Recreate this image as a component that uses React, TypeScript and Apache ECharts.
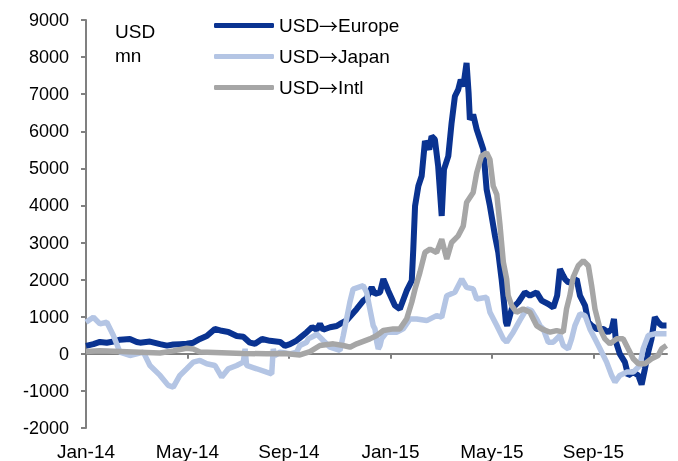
import React, { useEffect, useRef } from "react";
import * as echarts from "echarts";

// x positions are in months since Jan-2014 (0 = Jan-14, 4 = May-14, ...)
const tickMonths = [0, 4, 8, 12, 16, 20];
const tickLabels = ["Jan-14", "May-14", "Sep-14", "Jan-15", "May-15", "Sep-15"];
const seriesNames = ["USD→Europe", "USD→Japan", "USD→Intl"];

const europeX = [0, 0.29, 0.55, 0.82, 1.08, 1.34, 1.73, 2.0, 2.13, 2.52, 2.92, 3.19, 3.44, 3.7, 3.97, 4.23, 4.49, 4.76, 5.08, 5.35, 5.61, 5.94, 6.2, 6.46, 6.66, 6.94, 7.25, 7.65, 7.84, 8.04, 8.3, 8.43, 8.7, 8.91, 9.09, 9.22, 9.35, 9.62, 9.88, 10.01, 10.27, 10.67, 10.93, 11.06, 11.26, 11.39, 11.59, 11.72, 11.91, 12.18, 12.37, 12.64, 12.84, 12.9, 12.97, 13.1, 13.23, 13.36, 13.53, 13.62, 13.75, 13.88, 14.02, 14.11, 14.28, 14.41, 14.54, 14.67, 14.77, 14.87, 15.0, 15.08, 15.13, 15.26, 15.4, 15.53, 15.66, 15.79, 15.92, 16.12, 16.25, 16.38, 16.45, 16.55, 16.6, 16.78, 17.04, 17.3, 17.5, 17.76, 17.96, 18.22, 18.42, 18.57, 18.68, 18.81, 18.88, 19.01, 19.07, 19.34, 19.47, 19.67, 19.8, 19.93, 20.13, 20.39, 20.58, 20.72, 20.81, 20.89, 21.04, 21.24, 21.37, 21.57, 21.77, 21.9, 22.03, 22.16, 22.29, 22.42, 22.55, 22.69, 22.88];
const europeY = [215, 260, 320, 300, 330, 380, 400, 320, 300, 330, 260, 220, 250, 260, 270, 300, 400, 480, 670, 620, 590, 480, 460, 300, 270, 400, 350, 320, 215, 260, 358, 430, 583, 720, 650, 806, 650, 717, 750, 806, 900, 1210, 1434, 1500, 1792, 1613, 1658, 2016, 1702, 1299, 1210, 1702, 1971, 2822, 3987, 4524, 4793, 5734, 5510, 5868, 5779, 5062, 3718, 4973, 5331, 6228, 6943, 7123, 7392, 7212, 7841, 7034, 6317, 6451, 6048, 5779, 5510, 4435, 3987, 3180, 2734, 2016, 1567, 852, 761, 1210, 1390, 1658, 1567, 1658, 1434, 1344, 1250, 1567, 2285, 2105, 2016, 1927, 1927, 2016, 1567, 1299, 852, 761, 672, 672, 583, 672, 941, 314, 0, -224, -582, -493, -582, -830, -403, 45, 403, 986, 852, 761, 761];

const japanX = [0, 0.29, 0.55, 0.82, 1.08, 1.34, 1.73, 2.0, 2.26, 2.52, 2.92, 3.24, 3.44, 3.7, 3.97, 4.23, 4.49, 4.76, 5.08, 5.35, 5.61, 5.94, 6.2, 6.27, 6.33, 6.73, 7.12, 7.32, 7.38, 7.45, 7.65, 8.04, 8.3, 8.43, 8.7, 8.76, 9.02, 9.09, 9.35, 9.62, 10.01, 10.14, 10.27, 10.4, 10.53, 10.73, 10.93, 11.06, 11.19, 11.32, 11.39, 11.46, 11.52, 11.59, 11.65, 11.85, 12.24, 12.5, 12.77, 13.03, 13.43, 13.82, 14.02, 14.22, 14.54, 14.81, 15.0, 15.26, 15.4, 15.79, 15.92, 16.19, 16.45, 16.58, 16.84, 17.1, 17.37, 17.56, 17.76, 17.89, 18.02, 18.22, 18.42, 18.68, 18.81, 19.01, 19.14, 19.27, 19.47, 19.67, 19.86, 20.06, 20.26, 20.52, 20.72, 20.85, 21.04, 21.31, 21.57, 21.83, 21.96, 22.16, 22.42, 22.88];
const japanY = [852, 986, 806, 852, 493, 45, -45, 0, 45, -314, -582, -851, -896, -582, -403, -224, -179, -269, -314, -627, -403, -314, -224, 134, -314, -403, -493, -538, 134, -45, 45, 0, 45, 224, 314, 403, 493, 538, 358, 179, 90, 493, 941, 1390, 1747, 1792, 1837, 1658, 1210, 761, 672, 314, 134, 224, 403, 583, 583, 672, 941, 941, 896, 1030, 986, 1567, 1658, 2016, 1792, 1750, 1478, 1523, 1120, 761, 403, 314, 583, 900, 1210, 1165, 941, 761, 672, 314, 314, 493, 224, 134, 403, 761, 1075, 1030, 672, 403, 134, -224, -582, -761, -582, -493, -493, -314, 134, 493, 538, 538];

const intlX = [0, 0.55, 1.34, 2.13, 2.92, 3.44, 3.97, 4.23, 4.49, 5.35, 6.2, 7.12, 7.84, 8.43, 8.83, 9.22, 9.75, 10.14, 10.4, 10.67, 11.19, 11.46, 11.72, 12.11, 12.37, 12.64, 12.84, 12.97, 13.16, 13.36, 13.56, 13.82, 14.02, 14.22, 14.41, 14.67, 14.87, 15.0, 15.26, 15.4, 15.59, 15.79, 15.92, 16.05, 16.19, 16.32, 16.45, 16.58, 16.64, 16.78, 16.97, 17.23, 17.5, 17.63, 17.76, 17.96, 18.29, 18.55, 18.81, 18.94, 19.07, 19.2, 19.4, 19.6, 19.8, 19.93, 20.06, 20.26, 20.45, 20.65, 20.91, 21.17, 21.37, 21.57, 21.77, 22.03, 22.29, 22.55, 22.69, 22.88];
const intlY = [60, 80, 60, 40, 20, 80, 150, 130, 50, 30, 10, 0, 10, -30, 60, 224, 269, 224, 179, 269, 403, 493, 627, 672, 672, 941, 1390, 1747, 2196, 2734, 2822, 2734, 3091, 2554, 3002, 3180, 3449, 4078, 4347, 4884, 5331, 5421, 5242, 4524, 4300, 3449, 2465, 2016, 1567, 1299, 1120, 1210, 1120, 941, 761, 672, 583, 627, 583, 1210, 1567, 2061, 2374, 2509, 2374, 1837, 1210, 672, 403, 269, 403, 403, 134, -134, -269, -269, -134, -45, 134, 224];

const FONT = "'Liberation Sans', Arial, sans-serif";
const ARROW_FONT = "'Noto Sans CJK JP', 'Noto Sans CJK SC', 'DejaVu Sans', sans-serif";
const AXIS_GRAY = "#808080";

export default function App() {
  const ref = useRef<HTMLDivElement>(null);
  useEffect(() => {
    if (!ref.current) return;
    const chart = echarts.init(ref.current, undefined, { renderer: "svg" });
    const pair = (xs: number[], ys: number[]) => xs.map((x, i) => [x, ys[i]]);
    chart.setOption({
      animation: false,
      textStyle: { fontFamily: FONT },
      grid: { left: 86, right: 11, top: 20, bottom: 32, containLabel: false },
      legend: {
        orient: "vertical",
        left: 209,
        top: 11,
        itemWidth: 60,
        itemHeight: 5,
        itemGap: 12,
        icon: "roundRect",
        formatter: (name: string) => name.replace("→", "{a|→}"),
        textStyle: {
          fontFamily: FONT,
          fontSize: 19,
          color: "#000",
          lineHeight: 19,
          rich: { a: { fontFamily: ARROW_FONT, fontSize: 19, color: "#000", lineHeight: 19 } },
        },
        data: seriesNames,
      },
      graphic: [
        {
          type: "text",
          left: 115,
          top: 19,
          style: { text: "USD\nmn", fontFamily: FONT, fontSize: 19, lineHeight: 24, fill: "#000" },
        },
      ],
      xAxis: [
        {
          type: "value",
          min: 0,
          max: 22.9,
          position: "bottom",
          axisLine: { show: true, onZero: true, lineStyle: { color: AXIS_GRAY, width: 2 } },
          axisTick: { show: true, length: 5, customValues: tickMonths, lineStyle: { color: AXIS_GRAY, width: 2 } },
          axisLabel: { show: false },
          splitLine: { show: false },
        },
        {
          type: "value",
          min: 0,
          max: 22.9,
          position: "bottom",
          axisLine: { show: false, onZero: false },
          axisTick: { show: false },
          axisLabel: {
            show: true,
            customValues: tickMonths,
            margin: 14,
            fontFamily: FONT,
            fontSize: 19,
            color: "#000",
            formatter: (v: number) => tickLabels[Math.round(v / 4)] ?? "",
          },
          splitLine: { show: false },
        },
      ],
      yAxis: {
        type: "value",
        min: -2000,
        max: 9000,
        interval: 1000,
        axisLine: { show: true, lineStyle: { color: AXIS_GRAY, width: 2 } },
        axisTick: { show: true, length: 5, lineStyle: { color: AXIS_GRAY, width: 2 } },
        axisLabel: {
          fontFamily: FONT,
          fontSize: 18,
          color: "#000",
          margin: 17,
          formatter: (v: number) => String(v),
        },
        splitLine: { show: false },
      },
      series: [
        {
          name: seriesNames[0],
          type: "line",
          xAxisIndex: 0,
          symbol: "none",
          data: pair(europeX, europeY),
          lineStyle: { color: "#0a3391", width: 6 },
          itemStyle: { color: "#0a3391" },
        },
        {
          name: seriesNames[1],
          type: "line",
          xAxisIndex: 0,
          symbol: "none",
          data: pair(japanX, japanY),
          lineStyle: { color: "#b4c5e4", width: 5.5 },
          itemStyle: { color: "#b4c5e4" },
        },
        {
          name: seriesNames[2],
          type: "line",
          xAxisIndex: 0,
          symbol: "none",
          data: pair(intlX, intlY),
          lineStyle: { color: "#a6a6a6", width: 5.5 },
          itemStyle: { color: "#a6a6a6" },
        },
      ],
    });
    return () => chart.dispose();
  }, []);
  return <div ref={ref} style={{ position: "fixed", left: 0, top: 0, width: 678, height: 461 }} />;
}
